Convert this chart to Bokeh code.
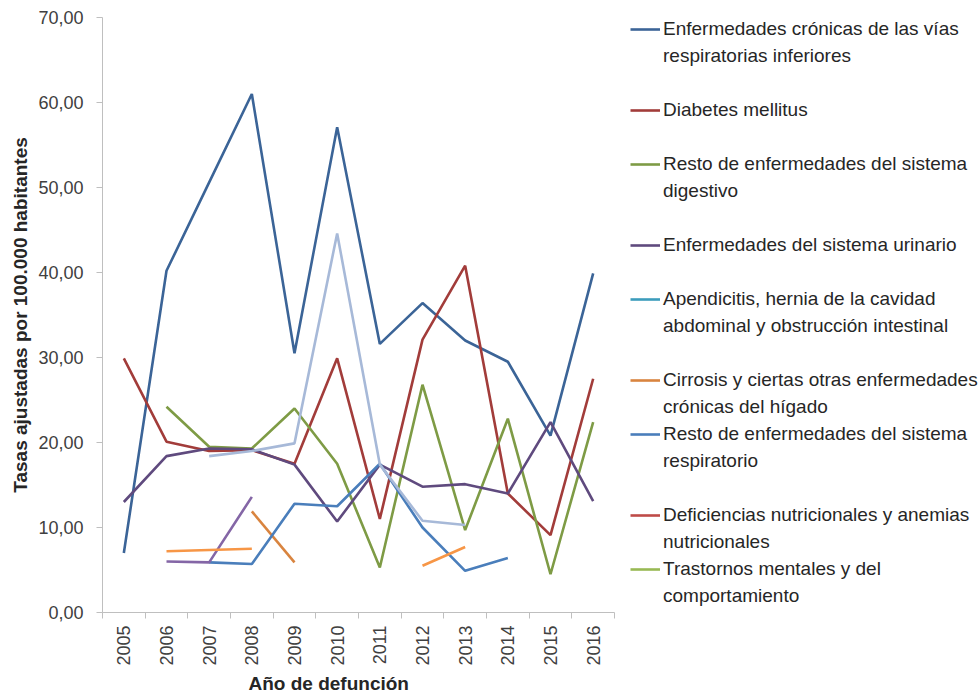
import math
from bokeh.plotting import figure
from bokeh.models import Range1d, FixedTicker, Legend, LegendItem, ColumnDataSource, Title
from bokeh.embed import file_html
from bokeh.resources import INLINE

nan = float("nan")

years = [2005, 2006, 2007, 2008, 2009, 2010, 2011, 2012, 2013, 2014, 2015, 2016]
y_ticks = [0, 10, 20, 30, 40, 50, 60, 70]

cronicas = [7.0, 40.2, 50.6, 61.0, 30.5, 57.1, 31.6, 36.4, 32.0, 29.5, 20.8, 39.9]
diabetes = [29.9, 20.1, 19.0, 19.1, 17.5, 29.9, 11.0, 32.1, 40.8, 14.0, 9.1, 27.5]
digestivo = [nan, 24.2, 19.5, 19.3, 24.0, 17.5, 5.3, 26.8, 9.7, 22.8, 4.5, 22.4]
urinario = [13.0, 18.4, 19.3, 19.2, 17.4, 10.7, 17.4, 14.8, 15.1, 14.0, 22.4, 13.1]
apendicitis = [nan] * 12
cirrosis = [nan, nan, nan, 11.9, 5.9, nan, nan, nan, nan, nan, nan, nan]
resto_resp = [nan, nan, 5.9, 5.7, 12.8, 12.5, 17.5, 10.0, 4.9, 6.4, nan, nan]
deficiencias = [nan] * 12
trastornos = [nan] * 12
otra_celeste = [nan, nan, 18.4, 19.0, 19.9, 44.6, 17.4, 10.8, 10.3, nan, nan, nan]
otra_morada = [nan, 6.0, 5.9, 13.6, nan, nan, nan, nan, nan, nan, nan, nan]
otra_naranja = [nan, 7.2, 7.35, 7.5, nan, nan, nan, 5.5, 7.7, nan, nan, nan]

legend_series = [
    ("Enfermedades crónicas de las vías\nrespiratorias inferiores", cronicas, "#3B6497"),
    ("Diabetes mellitus", diabetes, "#A23C3A"),
    ("Resto de enfermedades del sistema\ndigestivo", digestivo, "#7E9B45"),
    ("Enfermedades del sistema urinario", urinario, "#5F4A7E"),
    ("Apendicitis, hernia de la cavidad\nabdominal y obstrucción intestinal", apendicitis, "#3C9CBC"),
    ("Cirrosis y ciertas otras enfermedades\ncrónicas del hígado", cirrosis, "#D9843F"),
    ("Resto de enfermedades del sistema\nrespiratorio", resto_resp, "#4A7EBB"),
    ("Deficiencias nutricionales y anemias\nnutricionales", deficiencias, "#BE4B48"),
    ("Trastornos mentales y del\ncomportamiento", trastornos, "#98B954"),
]
extra_series = [
    (otra_celeste, "#A7B9D8"),
    (otra_morada, "#8466A6"),
    (otra_naranja, "#F79646"),
]
# blank legend rows inserted before each entry (legend layout only)
legend_gaps = [0, 1, 1, 1, 1, 1, 0, 1, 0]

FONT = "Liberation Sans"
TXT = "#404040"

W, H = 980, 696
LEFT, RIGHT, TOP = 102, 0, 17
FRAME_H = 595
PX_PER_YEAR = 512 / 12
frame_w = W - LEFT - RIGHT
x_start = years[0] - 0.5
x_end = x_start + frame_w / PX_PER_YEAR

p = figure(width=W, height=H,
           x_range=Range1d(x_start, x_end), y_range=Range1d(0, 70),
           output_backend="svg", toolbar_location=None,
           min_border_left=LEFT, min_border_right=RIGHT,
           min_border_top=TOP, min_border_bottom=H - TOP - FRAME_H)
p.outline_line_color = None
p.xgrid.visible = False
p.ygrid.visible = False
p.background_fill_color = "white"
p.border_fill_color = "white"

blank = p.line(x=[], y=[], line_alpha=0)

items = []
for (label, vals, color), gap in zip(legend_series, legend_gaps):
    src = ColumnDataSource(dict(x=years, y=vals))
    r = p.line("x", "y", source=src, line_color=color, line_width=2.6)
    for _ in range(gap):
        items.append(LegendItem(label=" ", renderers=[blank]))
    lines = label.split("\n")
    items.append(LegendItem(label=lines[0], renderers=[r]))
    for extra in lines[1:]:
        items.append(LegendItem(label=extra, renderers=[blank]))
for vals, color in extra_series:
    src = ColumnDataSource(dict(x=years, y=vals))
    p.line("x", "y", source=src, line_color=color, line_width=2.6)

xa = p.xaxis[0]
xa.bounds = (x_start, years[-1] + 0.5)
xa.ticker = FixedTicker(ticks=years, minor_ticks=[y - 0.5 for y in years] + [years[-1] + 0.5])
xa.major_tick_out = 0
xa.major_tick_in = 0
xa.minor_tick_out = 6
xa.minor_tick_in = 0
xa.minor_tick_line_color = "#BFBFBF"
xa.axis_line_color = "#BFBFBF"
xa.major_label_orientation = math.pi / 2
xa.major_label_text_font = FONT
xa.major_label_text_font_size = "18px"
xa.major_label_text_color = TXT
xa.major_label_standoff = 7

x_title = Title(text="Año de defunción", align="left", offset=146,
                text_font=FONT, text_font_style="bold", text_font_size="19px",
                text_color="#262626", standoff=4)
p.add_layout(x_title, "below")

ya = p.yaxis[0]
ya.ticker = FixedTicker(ticks=y_ticks)
ya.major_label_overrides = {t: f"{t},00" for t in y_ticks}
ya.major_tick_out = 6
ya.major_tick_in = 0
ya.minor_tick_out = 0
ya.minor_tick_in = 0
ya.major_tick_line_color = "#BFBFBF"
ya.axis_line_color = "#BFBFBF"
ya.major_label_text_font = FONT
ya.major_label_text_font_size = "18px"
ya.major_label_text_color = TXT
ya.major_label_standoff = 13
ya.axis_label = "Tasas ajustadas por 100.000 habitantes"
ya.axis_label_text_font = FONT
ya.axis_label_text_font_style = "bold"
ya.axis_label_text_font_size = "19px"
ya.axis_label_text_color = "#262626"
ya.axis_label_standoff = 4

legend = Legend(items=items, location=(528, 5))
legend.margin = 0
legend.padding = 0
legend.border_line_alpha = 0
legend.background_fill_alpha = 0
legend.glyph_width = 30
legend.glyph_height = 20
legend.label_standoff = 3
legend.label_height = 22
legend.spacing = 5
legend.label_text_font = FONT
legend.label_text_font_size = "19px"
legend.label_text_color = "#262626"
p.add_layout(legend, "center")

open("out.html", "w").write(file_html(p, INLINE))
